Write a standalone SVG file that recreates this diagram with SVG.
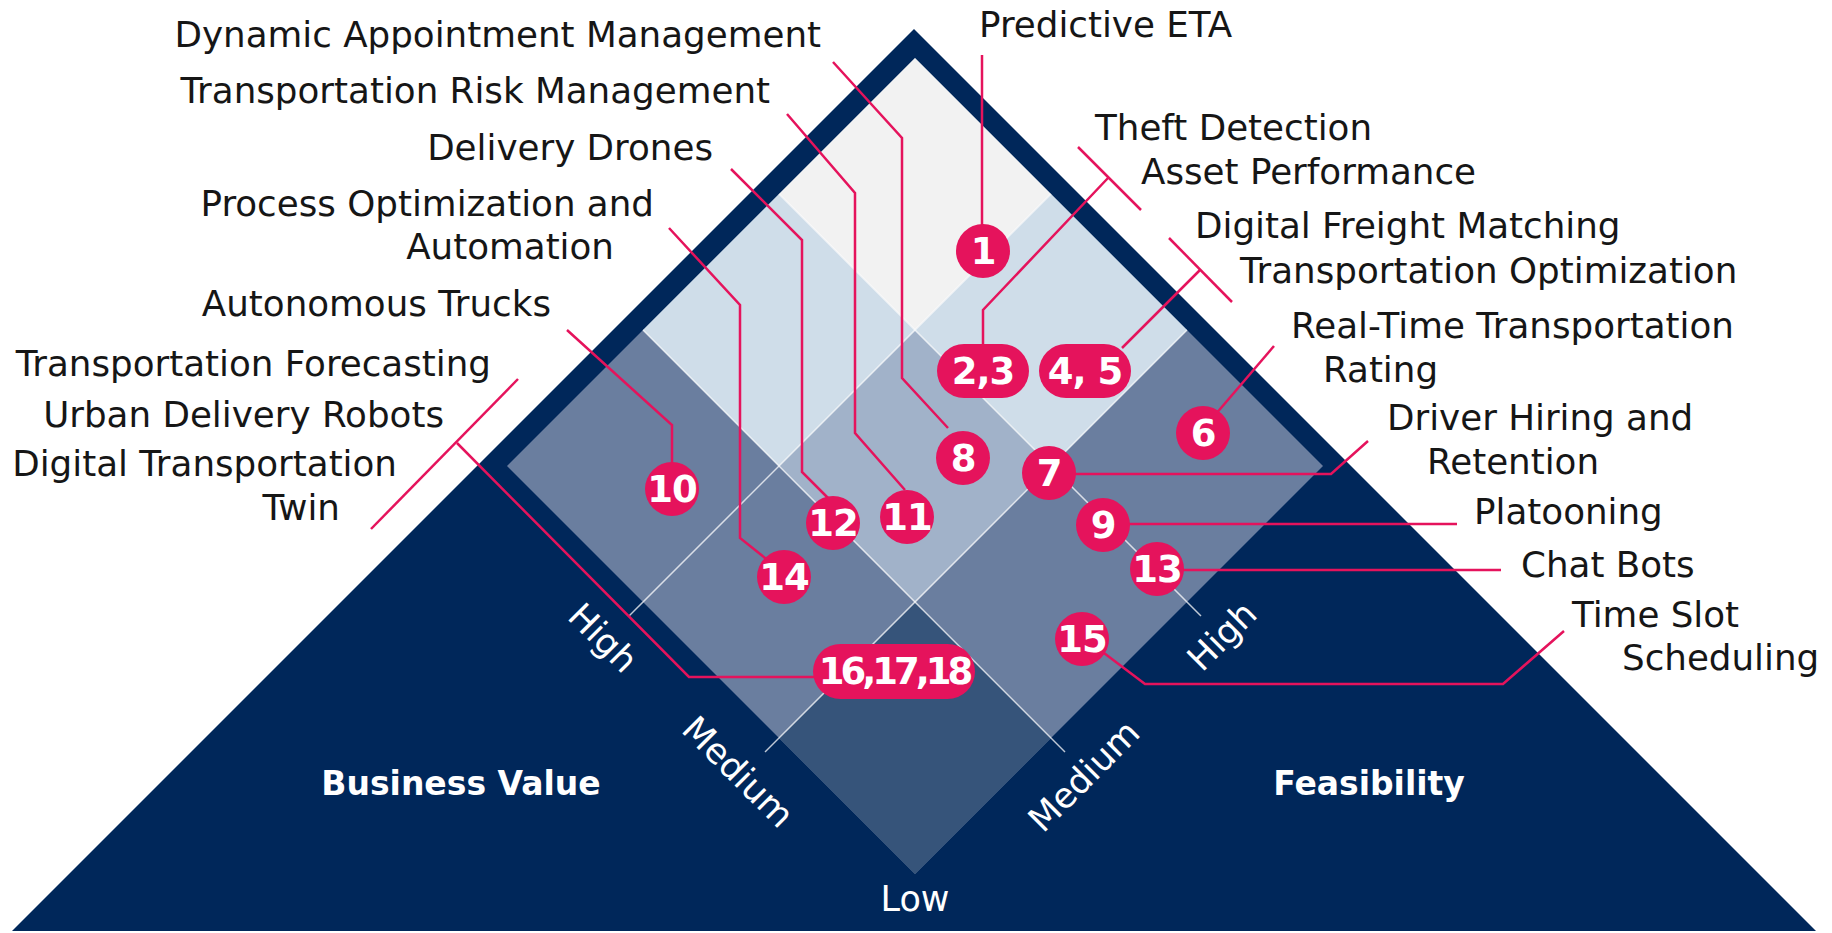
<svg xmlns="http://www.w3.org/2000/svg" width="1832" height="933" viewBox="0 0 1832 933">
  <style>
    .lbl { font-family: "DejaVu Sans", "Liberation Sans", sans-serif; font-size: 35.7px; fill: #161616; }
    .end { text-anchor: end; }
    .ax { font-family: "DejaVu Sans", "Liberation Sans", sans-serif; font-size: 35px; fill: #ffffff; text-anchor: middle; }
    .axb { font-family: "DejaVu Sans", "Liberation Sans", sans-serif; font-size: 33px; font-weight: bold; fill: #ffffff; text-anchor: middle; }
    .num { font-family: "DejaVu Sans", "Liberation Sans", sans-serif; font-size: 37px; font-weight: bold; fill: #ffffff; text-anchor: middle; letter-spacing: -1px; }
    .bub { fill: #e5135c; }
    .con { fill: none; stroke: #e5135c; stroke-width: 2.5; stroke-linejoin: miter; }
    .grid { fill: none; stroke: #ffffff; stroke-opacity: 0.75; stroke-width: 1.5; }
  </style>
  <rect width="1832" height="933" fill="#ffffff"/>

  <g id="prism">
    <polygon points="914,29 12,931 1816,931" fill="#00275a"/>
    <polygon points="915,874 507,466 915,58 1323,466" fill="#6a7e9f"/>
    <polygon points="915,874 779,738 915,602 1051,738" fill="#36547a"/>
    <polygon points="915,602 779,466 915,330 1051,466" fill="#a1b2c9"/>
    <polygon points="779,466 643,330 779,194 915,330" fill="#cfdde9"/>
    <polygon points="1051,466 915,330 1051,194 1187,330" fill="#cfdde9"/>
    <polygon points="915,330 779,194 915,58 1051,194" fill="#f2f2f2"/>
    <g id="grid-lines">
      <line class="grid" x1="629" y1="616" x2="1051" y2="194"/>
      <line class="grid" x1="765" y1="752" x2="1187" y2="330"/>
      <line class="grid" x1="779" y1="194" x2="1201" y2="616"/>
      <line class="grid" x1="643" y1="330" x2="1065" y2="752"/>
    </g>
    <g id="axis-labels">
      <text class="ax" transform="translate(603,638) rotate(45)" y="12">High</text>
      <text class="ax" transform="translate(738,772) rotate(45)" y="12">Medium</text>
      <text class="ax" x="915" y="911">Low</text>
      <text class="ax" transform="translate(1222,636) rotate(-45)" y="12">High</text>
      <text class="ax" transform="translate(1084,776) rotate(-45)" y="12">Medium</text>
      <text class="axb" x="461" y="795">Business Value</text>
      <text class="axb" x="1369" y="795">Feasibility</text>
    </g>
  </g>

  <g id="connectors">
    <path class="con" d="M833,62 L902,138 L902,378 L948,428"/>
    <path class="con" d="M787,114 L855,193 L855,433 L905,490"/>
    <path class="con" d="M731,169 L802,240 L802,472 L830,500"/>
    <path class="con" d="M669,228 L740,305 L740,538 L770,562"/>
    <path class="con" d="M567,330 L672,425 L672,465"/>
    <path class="con" d="M518,379 L371,529"/>
    <path class="con" d="M457,443 L689,677 L815,677"/>
    <path class="con" d="M982,55 L982,226"/>
    <path class="con" d="M1078,147 L1141,210"/>
    <path class="con" d="M1108,178 L983,310 L983,345"/>
    <path class="con" d="M1169,238 L1232,302"/>
    <path class="con" d="M1200,270 L1122,348"/>
    <path class="con" d="M1274,346 L1215,415"/>
    <path class="con" d="M1368,441 L1331,474 L1049,474"/>
    <path class="con" d="M1103,524 L1457,524"/>
    <path class="con" d="M1157,570 L1501,570"/>
    <path class="con" d="M1564,631 L1503,684 L1145,684 L1100,650"/>
  </g>

  <g id="bubbles">
    <g id="b1"><circle class="bub" cx="983" cy="251" r="27"/><text class="num" x="983" y="264">1</text></g>
    <g id="b2-3"><rect class="bub" x="937" y="344" width="92" height="54" rx="27"/><text class="num" x="983" y="384">2,3</text></g>
    <g id="b4-5"><rect class="bub" x="1039" y="344" width="92" height="54" rx="27"/><text class="num" x="1085" y="384">4, 5</text></g>
    <g id="b6"><circle class="bub" cx="1203" cy="433" r="27"/><text class="num" x="1203" y="446">6</text></g>
    <g id="b7"><circle class="bub" cx="1049" cy="473" r="27"/><text class="num" x="1049" y="486">7</text></g>
    <g id="b8"><circle class="bub" cx="963" cy="458" r="27"/><text class="num" x="963" y="471">8</text></g>
    <g id="b9"><circle class="bub" cx="1103" cy="525" r="27"/><text class="num" x="1103" y="538">9</text></g>
    <g id="b10"><circle class="bub" cx="672" cy="489" r="27"/><text class="num" x="672" y="502">10</text></g>
    <g id="b11"><circle class="bub" cx="907" cy="517" r="27"/><text class="num" x="907" y="530">11</text></g>
    <g id="b12"><circle class="bub" cx="833" cy="523" r="27"/><text class="num" x="833" y="536">12</text></g>
    <g id="b13"><circle class="bub" cx="1157" cy="569" r="27"/><text class="num" x="1157" y="582">13</text></g>
    <g id="b14"><circle class="bub" cx="784" cy="577" r="27"/><text class="num" x="784" y="590">14</text></g>
    <g id="b15"><circle class="bub" cx="1082" cy="639" r="27"/><text class="num" x="1082" y="652">15</text></g>
    <g id="b16-18"><rect class="bub" x="813" y="644" width="162" height="55" rx="27.5"/><text class="num" x="894" y="684" style="letter-spacing:-4px">16,17,18</text></g>
  </g>

  <g id="labels">
    <g id="l-dam"><text class="lbl end" x="821" y="47">Dynamic Appointment Management</text></g>
    <g id="l-trm"><text class="lbl end" x="770" y="103">Transportation Risk Management</text></g>
    <g id="l-dd"><text class="lbl end" x="713" y="160">Delivery Drones</text></g>
    <g id="l-poa"><text class="lbl end" x="654" y="216">Process Optimization and</text><text class="lbl end" x="614" y="259">Automation</text></g>
    <g id="l-at"><text class="lbl end" x="551" y="316">Autonomous Trucks</text></g>
    <g id="l-tf"><text class="lbl end" x="491" y="376">Transportation Forecasting</text></g>
    <g id="l-udr"><text class="lbl end" x="444" y="427">Urban Delivery Robots</text></g>
    <g id="l-dtt"><text class="lbl end" x="397" y="476">Digital Transportation</text><text class="lbl end" x="340" y="520">Twin</text></g>
    <g id="l-peta"><text class="lbl" x="979" y="37">Predictive ETA</text></g>
    <g id="l-td"><text class="lbl" x="1095" y="140">Theft Detection</text></g>
    <g id="l-ap"><text class="lbl" x="1141" y="184">Asset Performance</text></g>
    <g id="l-dfm"><text class="lbl" x="1195" y="238">Digital Freight Matching</text></g>
    <g id="l-to"><text class="lbl" x="1240" y="283">Transportation Optimization</text></g>
    <g id="l-rttr"><text class="lbl" x="1291" y="338">Real-Time Transportation</text><text class="lbl" x="1323" y="382">Rating</text></g>
    <g id="l-dhr"><text class="lbl" x="1387" y="430">Driver Hiring and</text><text class="lbl" x="1427" y="474">Retention</text></g>
    <g id="l-pl"><text class="lbl" x="1474" y="524">Platooning</text></g>
    <g id="l-cb"><text class="lbl" x="1521" y="577">Chat Bots</text></g>
    <g id="l-tss"><text class="lbl" x="1572" y="627">Time Slot</text><text class="lbl" x="1622" y="670">Scheduling</text></g>
  </g>
</svg>
